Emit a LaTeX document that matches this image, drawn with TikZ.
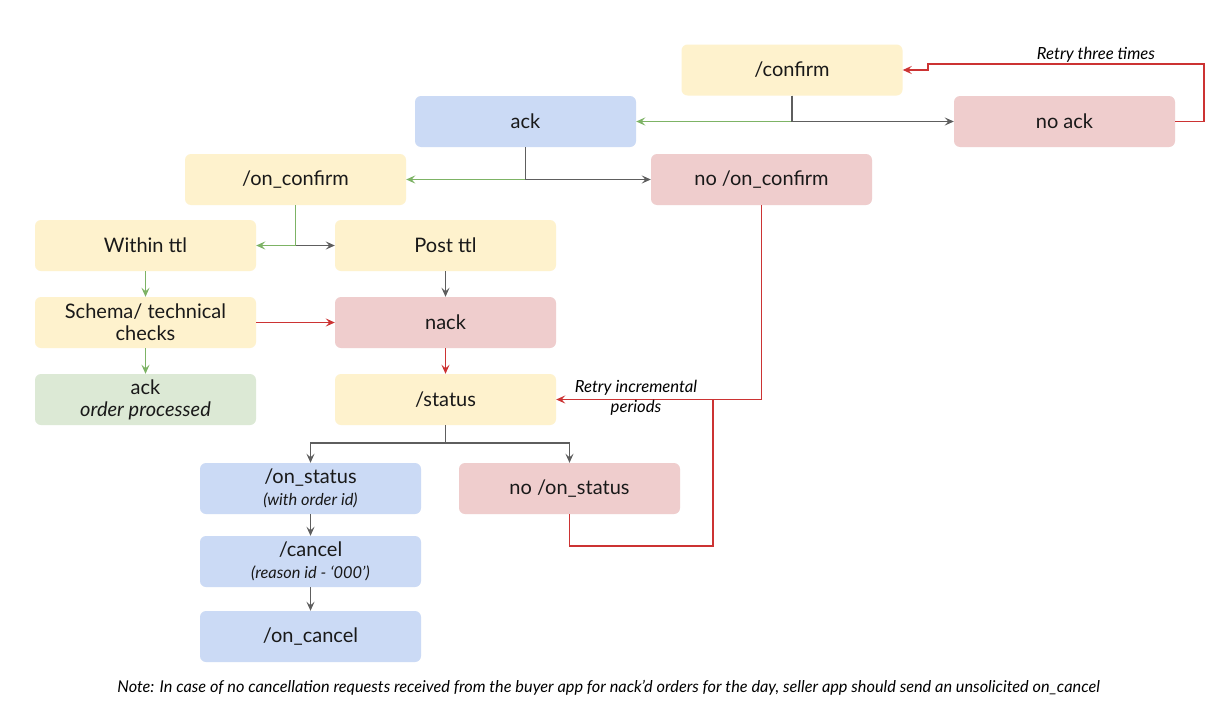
\documentclass[tikz,border=0pt]{standalone}
\usepackage{fontspec}
\setmainfont{Lato}
\usetikzlibrary{arrows.meta}
\definecolor{boxyellow}{HTML}{FEF2CD}
\definecolor{boxblue}{HTML}{CBDAF5}
\definecolor{boxpink}{HTML}{EFCDCD}
\definecolor{boxgreen}{HTML}{DCE9D5}
\definecolor{lgreen}{HTML}{7DB365}
\definecolor{lred}{HTML}{CC3333}
\definecolor{lgray}{HTML}{5E5E5E}
\newcommand\subtxt{\fontsize{16.4}{19}\selectfont\itshape}
\tikzset{
  box/.style={rectangle, rounded corners=6pt, minimum width=221pt, minimum height=51pt,
    inner sep=0pt, align=center, font=\fontsize{20}{23}\selectfont, text=black!90},
  ybox/.style={box, fill=boxyellow},
  bbox/.style={box, fill=boxblue},
  pbox/.style={box, fill=boxpink},
  gbox/.style={box, fill=boxgreen},
  tip/.style={-{Stealth[length=9pt,width=8pt,inset=3.5pt]}},
  gline/.style={draw=lgreen, line width=1.4pt},
  rline/.style={draw=lred, line width=1.4pt},
  kline/.style={draw=lgray, line width=1.4pt},
  lbl/.style={font=\fontsize{16.7}{19}\selectfont\itshape, align=center, inner sep=0pt},
}
\begin{document}
\begin{tikzpicture}[x=1pt, y=-1pt]
\useasboundingbox (0,0) rectangle (1226,712);
\fill[white] (0,0) rectangle (1226,712);

% boxes
\node[ybox] (confirm) at (792,70) {/confirm};
\node[bbox] (ack) at (525.5,121.5) {ack};
\node[pbox] (noack) at (1064.5,121.5) {no ack};
\node[ybox] (onconfirm) at (295.5,179.5) {/on\_confirm};
\node[pbox] (noonconfirm) at (761.5,179.5) {no /on\_confirm};
\node[ybox] (within) at (145.5,245.5) {Within ttl};
\node[ybox] (post) at (445.5,245.5) {Post ttl};
\node[ybox] (schema) at (145.5,322.5) {Schema/ technical\\[-1pt]checks};
\node[pbox] (nack) at (445.5,322.5) {nack};
\node[gbox] (processed) at (145.5,399.5) {ack\\[-1pt]{\itshape order processed}};
\node[ybox] (status) at (445.5,399.5) {/status};
\node[bbox] (onstatus) at (310.5,488.5) {/on\_status\\[-1pt]{\subtxt (with order id)}};
\node[pbox] (noonstatus) at (569.5,488.5) {no /on\_status};
\node[bbox] (cancel) at (310.5,561.5) {/cancel\\[-1pt]{\subtxt (reason id - ‘000’)}};
\node[bbox] (oncancel) at (310.5,636.5) {/on\_cancel};

% routing points
\coordinate (r1) at (1204,64);
\coordinate (r2) at (928,64);
\coordinate (r3) at (928,70);
\coordinate (s1) at (713,399.5);
\coordinate (s2) at (713,546);
\coordinate (st) at (445.5,443);

% confirm branch
\draw[gline,tip] (confirm.south) |- (ack.east);
\draw[kline,tip] (confirm.south) |- (noack.west);
\draw[rline,tip] (noack.east) -| (r1) -- (r2) -- (r3) -- (confirm.east);
\node[lbl, anchor=south] (retry3) at (1096,63) {Retry three times};

% ack branch
\draw[gline,tip] (ack.south) |- (onconfirm.east);
\draw[kline,tip] (ack.south) |- (noonconfirm.west);

% on_confirm branch
\draw[kline,tip] (onconfirm.south) |- (post.west);
\draw[gline,tip] (onconfirm.south) |- (within.east);

\draw[gline,tip] (within) -- (schema);
\draw[gline,tip] (schema) -- (processed);
\draw[rline,tip] (schema) -- (nack);
\draw[kline,tip] (post) -- (nack);
\draw[rline,tip] (nack) -- (status);

% retry loop into status
\draw[rline,tip] (noonconfirm.south) |- (status.east);
\draw[rline] (noonstatus.south) |- (s2) -- (s1);
\node[lbl] (retryinc) at (636,397.5) {Retry incremental\\[1pt]periods};

% status branch
\draw[kline] (status.south) -- (st);
\draw[kline,tip] (st) -| (onstatus.north);
\draw[kline,tip] (st) -| (noonstatus.north);
\draw[kline,tip] (onstatus) -- (cancel);
\draw[kline,tip] (cancel) -- (oncancel);

\node[font=\fontsize{16.3}{18}\selectfont\itshape, inner sep=0pt] (note) at (608.5,688)
  {Note: In case of no cancellation requests received from the buyer app for nack’d orders for the day, seller app should send an unsolicited on\_cancel};
\end{tikzpicture}
\end{document}
